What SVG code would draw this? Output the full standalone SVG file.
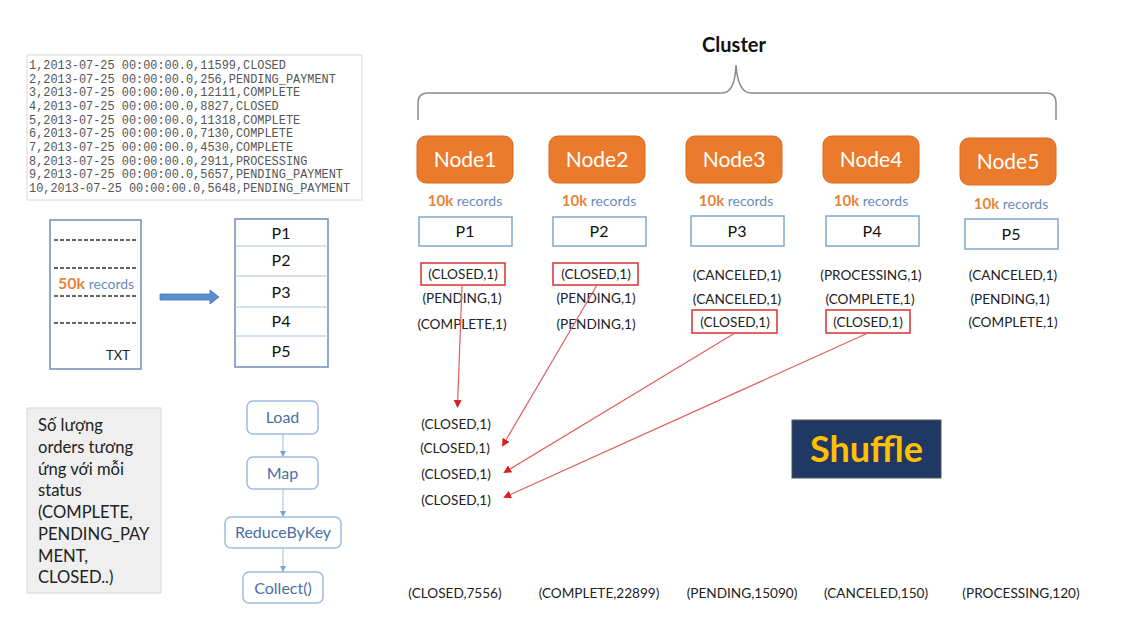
<svg xmlns="http://www.w3.org/2000/svg" width="1125" height="625" viewBox="0 0 1125 625">
<defs>
<style>
.mono{font-family:"Liberation Mono","DejaVu Sans Mono",monospace;font-size:11.9px;fill:#555}
.c{font-family:Lato,"Open Sans","Liberation Sans",sans-serif}
.tup{font-family:Lato,"Open Sans","Liberation Sans",sans-serif;font-size:13.6px;fill:#222;text-anchor:middle}
.node rect.n{fill:#ea7b2c;stroke:#d96a1e;stroke-width:1}
.nlab{font-family:Lato,"Open Sans","Liberation Sans",sans-serif;font-size:21px;fill:#fff;text-anchor:middle}
.pbox{fill:#fff;stroke:#7fa8d0;stroke-width:1.5}
.plab{font-family:Lato,"Open Sans","Liberation Sans",sans-serif;font-size:16px;fill:#111;text-anchor:middle}
.k{font-weight:bold;fill:#e8843a}
.r{fill:#6a8cc0}
.red{fill:none;stroke:#d93030;stroke-width:1.5}
.flow rect{fill:#fff;stroke:#9dbbe0;stroke-width:1.5}
.flab{font-family:Lato,"Open Sans","Liberation Sans",sans-serif;font-size:16px;fill:#4a6fa5;text-anchor:middle}
.dash{stroke:#333;stroke-width:1.4;stroke-dasharray:4 2}
</style>
<marker id="ra" markerWidth="8" markerHeight="8" refX="6" refY="4" orient="auto" markerUnits="userSpaceOnUse">
<path d="M0,0 L8,4 L0,8 z" fill="#d92020"/>
</marker>
<marker id="ba" markerWidth="6" markerHeight="6" refX="5" refY="3" orient="auto" markerUnits="userSpaceOnUse">
<path d="M0,0 L6,3 L0,6 z" fill="#7fa3d0"/>
</marker>
</defs>
<rect width="1125" height="625" fill="#fff"/>

<g id="data">
<rect x="27" y="55" width="335" height="145" fill="#fff" stroke="#d8d8d8"/>
<text class="mono" x="29" y="69">1,2013-07-25 00:00:00.0,11599,CLOSED</text>
<text class="mono" x="29" y="83">2,2013-07-25 00:00:00.0,256,PENDING_PAYMENT</text>
<text class="mono" x="29" y="96">3,2013-07-25 00:00:00.0,12111,COMPLETE</text>
<text class="mono" x="29" y="110">4,2013-07-25 00:00:00.0,8827,CLOSED</text>
<text class="mono" x="29" y="124">5,2013-07-25 00:00:00.0,11318,COMPLETE</text>
<text class="mono" x="29" y="137">6,2013-07-25 00:00:00.0,7130,COMPLETE</text>
<text class="mono" x="29" y="151">7,2013-07-25 00:00:00.0,4530,COMPLETE</text>
<text class="mono" x="29" y="165">8,2013-07-25 00:00:00.0,2911,PROCESSING</text>
<text class="mono" x="29" y="178">9,2013-07-25 00:00:00.0,5657,PENDING_PAYMENT</text>
<text class="mono" x="29" y="192">10,2013-07-25 00:00:00.0,5648,PENDING_PAYMENT</text>
</g>

<g id="txt">
<rect x="50" y="220" width="91" height="149" fill="#fff" stroke="#6d8fb8" stroke-width="1.5"/>
<line class="dash" x1="54" y1="240" x2="137" y2="240"/>
<line class="dash" x1="54" y1="268" x2="137" y2="268"/>
<line class="dash" x1="54" y1="296" x2="137" y2="296"/>
<line class="dash" x1="54" y1="323" x2="137" y2="323"/>
<text class="c" x="58" y="289" font-size="15"><tspan class="k" font-size="16">50k</tspan><tspan class="r" font-size="14"> records</tspan></text>
<text class="c" x="118" y="360" font-size="13" fill="#222" text-anchor="middle">TXT</text>
</g>

<g id="split-arrow">
<path d="M160,294 L210,294 L210,290 L219,297 L210,304 L210,300 L160,300 z" fill="#5b8fd0" stroke="#3f74b5" stroke-width="0.8"/>
</g>

<g id="partitions">
<rect x="235" y="219" width="93" height="148" fill="#fff" stroke="#6d8fb8" stroke-width="1.5"/>
<line x1="235" y1="246" x2="328" y2="246" stroke="#a9c2dd"/>
<line x1="235" y1="276" x2="328" y2="276" stroke="#a9c2dd"/>
<line x1="235" y1="307" x2="328" y2="307" stroke="#a9c2dd"/>
<line x1="235" y1="336" x2="328" y2="336" stroke="#a9c2dd"/>
<text class="plab" x="281" y="239">P1</text>
<text class="plab" x="281" y="266">P2</text>
<text class="plab" x="281" y="298">P3</text>
<text class="plab" x="281" y="327">P4</text>
<text class="plab" x="281" y="357">P5</text>
</g>

<g id="note">
<rect x="27" y="408" width="134" height="185" fill="#efefef" stroke="#d6d6d6"/>
<g class="c" font-size="16.6" fill="#222">
<text x="38" y="431">Số lượng</text>
<text x="38" y="453">orders tương</text>
<text x="38" y="475">ứng với mỗi</text>
<text x="38" y="496">status</text>
<text x="38" y="518">(COMPLETE,</text>
<text x="38" y="540">PENDING_PAY</text>
<text x="38" y="562">MENT,</text>
<text x="38" y="583">CLOSED..)</text>
</g>
</g>

<g id="flow" class="flow">
<g id="load"><rect x="247" y="401" width="71" height="33" rx="6"/><text class="flab" x="282.5" y="423">Load</text></g>
<g id="map"><rect x="247" y="457" width="71" height="32" rx="6"/><text class="flab" x="282.5" y="479">Map</text></g>
<g id="reduce"><rect x="225" y="517" width="116" height="31" rx="6"/><text class="flab" x="283" y="538">ReduceByKey</text></g>
<g id="collect"><rect x="243" y="572" width="80" height="31" rx="6"/><text class="flab" x="283" y="594">Collect()</text></g>
</g>

<g id="flow-connectors" stroke="#9dbbe0" stroke-width="1">
<line x1="283" y1="434" x2="283" y2="456" marker-end="url(#ba)"/>
<line x1="283" y1="489" x2="283" y2="516" marker-end="url(#ba)"/>
<line x1="283" y1="548" x2="283" y2="571" marker-end="url(#ba)"/>
</g>

<g id="cluster">
<text x="734" y="52" font-family="Lato,'Open Sans','Liberation Sans',sans-serif" font-size="20" font-weight="bold" fill="#111" text-anchor="middle">Cluster</text>
<path d="M418,120 L418,103 Q418,93 428,93 L722,93 Q735,93 736,65 Q738,93 751,93 L1046,93 Q1056,93 1056,103 L1056,120" fill="none" stroke="#8a8a8a" stroke-width="1.5"/>
</g>

<g id="node1" class="node">
<rect class="n" x="417" y="136" width="96" height="47" rx="9"/>
<text class="nlab" x="465" y="167">Node1</text>
<text class="c" x="465" y="206" text-anchor="middle"><tspan class="k" font-size="15">10k</tspan><tspan class="r" font-size="14"> records</tspan></text>
<rect class="pbox" x="419" y="217" width="93" height="29"/>
<text class="plab" x="465" y="237">P1</text>
</g>
<g id="node2" class="node">
<rect class="n" x="549" y="136" width="96" height="47" rx="9"/>
<text class="nlab" x="597" y="167">Node2</text>
<text class="c" x="599" y="206" text-anchor="middle"><tspan class="k" font-size="15">10k</tspan><tspan class="r" font-size="14"> records</tspan></text>
<rect class="pbox" x="553" y="217" width="93" height="29"/>
<text class="plab" x="599" y="237">P2</text>
</g>
<g id="node3" class="node">
<rect class="n" x="686" y="136" width="96" height="47" rx="9"/>
<text class="nlab" x="734" y="167">Node3</text>
<text class="c" x="736" y="206" text-anchor="middle"><tspan class="k" font-size="15">10k</tspan><tspan class="r" font-size="14"> records</tspan></text>
<rect class="pbox" x="691" y="216" width="93" height="30"/>
<text class="plab" x="737" y="237">P3</text>
</g>
<g id="node4" class="node">
<rect class="n" x="823" y="136" width="96" height="47" rx="9"/>
<text class="nlab" x="871" y="167">Node4</text>
<text class="c" x="871" y="206" text-anchor="middle"><tspan class="k" font-size="15">10k</tspan><tspan class="r" font-size="14"> records</tspan></text>
<rect class="pbox" x="826" y="216" width="93" height="30"/>
<text class="plab" x="872" y="237">P4</text>
</g>
<g id="node5" class="node">
<rect class="n" x="960" y="138" width="96" height="47" rx="9"/>
<text class="nlab" x="1008" y="169">Node5</text>
<text class="c" x="1011" y="209" text-anchor="middle"><tspan class="k" font-size="15">10k</tspan><tspan class="r" font-size="14"> records</tspan></text>
<rect class="pbox" x="965" y="219" width="93" height="30"/>
<text class="plab" x="1011" y="240">P5</text>
</g>

<g id="tuples">
<rect class="red" x="421" y="263" width="84" height="22"/>
<text class="tup" x="463" y="279">(CLOSED,1)</text>
<text class="tup" x="462" y="303">(PENDING,1)</text>
<text class="tup" x="462" y="329">(COMPLETE,1)</text>

<rect class="red" x="553" y="263" width="85" height="22"/>
<text class="tup" x="596" y="279">(CLOSED,1)</text>
<text class="tup" x="596" y="303">(PENDING,1)</text>
<text class="tup" x="596" y="329">(PENDING,1)</text>

<text class="tup" x="737" y="280">(CANCELED,1)</text>
<text class="tup" x="737" y="304">(CANCELED,1)</text>
<rect class="red" x="692" y="310" width="85" height="23"/>
<text class="tup" x="735" y="327">(CLOSED,1)</text>

<text class="tup" x="871" y="280">(PROCESSING,1)</text>
<text class="tup" x="870" y="304">(COMPLETE,1)</text>
<rect class="red" x="826" y="310" width="84" height="23"/>
<text class="tup" x="868" y="327">(CLOSED,1)</text>

<text class="tup" x="1013" y="280">(CANCELED,1)</text>
<text class="tup" x="1010" y="304">(PENDING,1)</text>
<text class="tup" x="1013" y="327">(COMPLETE,1)</text>

<text class="tup" x="456" y="429">(CLOSED,1)</text>
<text class="tup" x="455" y="453">(CLOSED,1)</text>
<text class="tup" x="456" y="479">(CLOSED,1)</text>
<text class="tup" x="456" y="505">(CLOSED,1)</text>
</g>

<g id="connectors" stroke="#e06060" stroke-width="1.2">
<line x1="462" y1="285" x2="457.5" y2="406" marker-end="url(#ra)"/>
<line x1="597" y1="285" x2="503" y2="445" marker-end="url(#ra)"/>
<line x1="735" y1="333" x2="505" y2="472" marker-end="url(#ra)"/>
<line x1="868" y1="333" x2="505" y2="497" marker-end="url(#ra)"/>
</g>

<g id="shuffle">
<rect x="792" y="420" width="149" height="58" fill="#1f3864" stroke="#555" stroke-width="1"/>
<text x="866.5" y="462" font-family="Lato,'Open Sans','Liberation Sans',sans-serif" font-size="36" font-weight="bold" fill="#ffc000" text-anchor="middle">Shuffle</text>
</g>

<g id="results">
<text class="tup" x="455" y="598">(CLOSED,7556)</text>
<text class="tup" x="599" y="598">(COMPLETE,22899)</text>
<text class="tup" x="742" y="598">(PENDING,15090)</text>
<text class="tup" x="876" y="598">(CANCELED,150)</text>
<text class="tup" x="1021" y="598">(PROCESSING,120)</text>
</g>
</svg>
